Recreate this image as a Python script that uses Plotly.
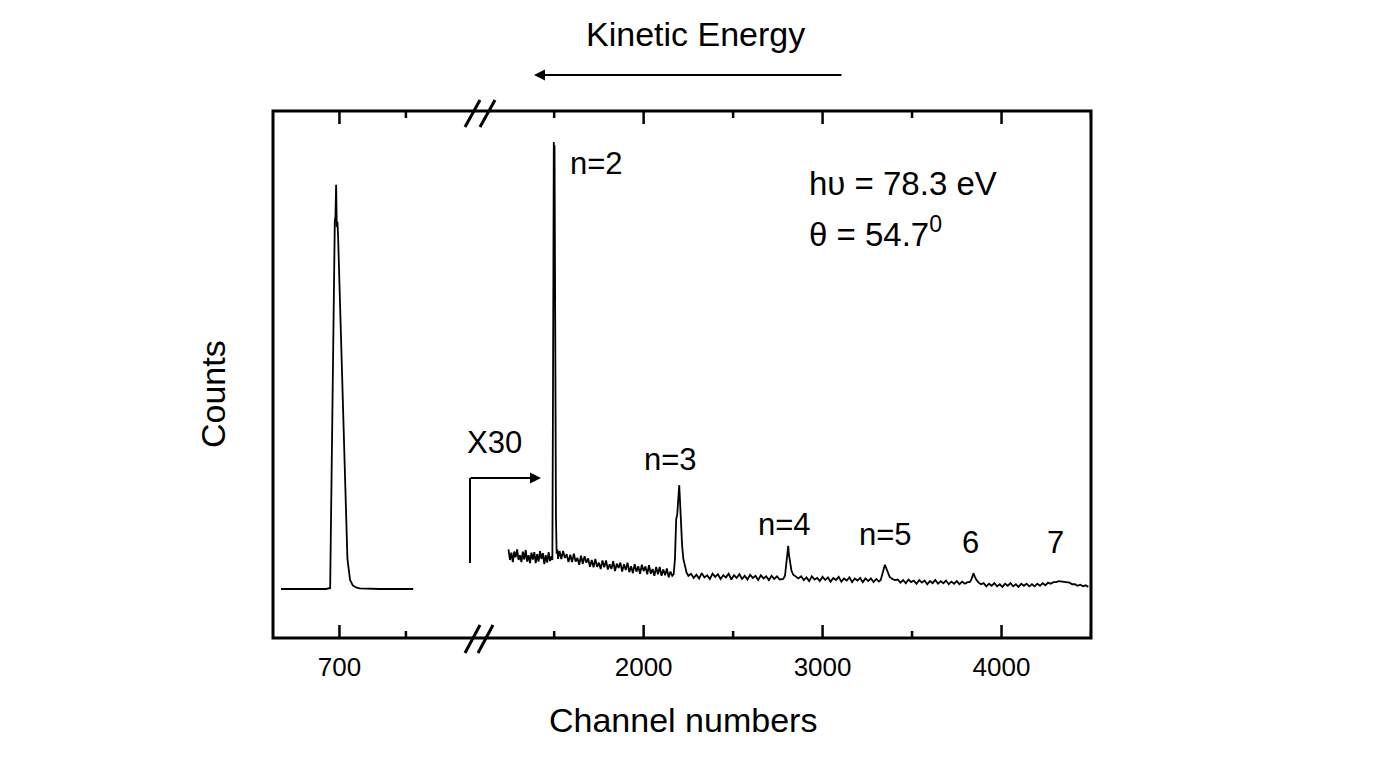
import plotly.graph_objects as go

# ---------------- data ----------------
# left panel: full-scale peak
left_channels = [612, 640, 660, 680, 686, 688, 690, 692, 693, 694, 695, 696, 697, 698,
                 700, 703, 706, 709, 712, 716, 720, 725, 730, 760, 811]
left_counts = [93, 93, 93, 93, 95, 300, 520, 720, 790, 800, 860, 780, 790, 760,
               680, 560, 420, 280, 150, 110, 100, 96, 94, 93, 93]

# right panel: X30 magnified spectrum (noisy background + peaks n=2..7)
seg_a_ch = [1245, 1253, 1261, 1269, 1277, 1285, 1293, 1301, 1309, 1317, 1325, 1333,
            1341, 1349, 1357, 1365, 1373, 1381, 1389, 1397, 1405, 1413, 1421, 1429,
            1437, 1445, 1453, 1461, 1469, 1477, 1485]
seg_a_ct = [168, 148, 162, 144, 164, 153, 168, 148, 157, 144, 164, 149, 167, 145, 157,
            142, 162, 149, 163, 142, 159, 145, 165, 150, 161, 140, 157, 143, 163, 146, 155]

peak2_ch = [1490, 1493, 1496, 1498, 1500, 1502, 1504, 1507, 1510, 1514, 1518, 1522]
peak2_ct = [148, 420, 760, 941, 880, 935, 700, 420, 230, 160, 168, 150]

seg_b_ch = [1530, 1540, 1550, 1560, 1570, 1580, 1590, 1600, 1610, 1620, 1630, 1640,
            1650, 1660, 1670, 1680, 1690, 1700, 1710, 1720, 1730, 1740, 1750, 1760,
            1770, 1780, 1790, 1800, 1810, 1820, 1830, 1840, 1850, 1860, 1870, 1880,
            1890, 1900, 1910, 1920, 1930, 1940, 1950, 1960, 1970, 1980, 1990, 2000,
            2010, 2020, 2030, 2040, 2050, 2060, 2070, 2080, 2090, 2100, 2110, 2120,
            2130, 2140, 2150, 2160]
seg_b_ct = [165, 150, 165, 152, 159, 144, 158, 144, 160, 145, 152, 139, 156, 141, 155,
            143, 151, 135, 148, 134, 150, 135, 143, 131, 147, 134, 147, 130, 140, 131,
            146, 127, 141, 133, 143, 126, 140, 129, 143, 125, 136, 123, 140, 126, 136,
            122, 139, 127, 136, 121, 138, 122, 131, 118, 135, 121, 135, 118, 130, 119,
            132, 115, 126, 118]

peak3_ch = [2168, 2175, 2182, 2188, 2194, 2199, 2203, 2208, 2215, 2222, 2230, 2240, 2250]
peak3_ct = [121, 150, 225, 235, 270, 290, 262, 215, 175, 150, 135, 124, 118]

seg_c_ch = [2265, 2280, 2295, 2310, 2325, 2340, 2355, 2370, 2385, 2400, 2415, 2430,
            2445, 2460, 2475, 2490, 2505, 2520, 2535, 2550, 2565, 2580, 2595, 2610,
            2625, 2640, 2655, 2670, 2685, 2700, 2715, 2730, 2745, 2760]
seg_c_ct = [122, 114, 120, 113, 123, 115, 119, 112, 122, 116, 121, 112, 119, 115, 122,
            111, 119, 114, 121, 112, 118, 111, 120, 114, 118, 110, 119, 113, 117, 110,
            118, 112, 117, 111]

peak4_ch = [2780, 2790, 2798, 2804, 2808, 2812, 2818, 2826, 2836, 2850, 2865]
peak4_ct = [112, 118, 140, 160, 175, 158, 140, 128, 120, 116, 113]

seg_d_ch = [2880, 2895, 2910, 2925, 2940, 2955, 2970, 2985, 3000, 3015, 3030, 3045,
            3060, 3075, 3090, 3105, 3120, 3135, 3150, 3165, 3180, 3195, 3210, 3225,
            3240, 3255, 3270, 3285, 3300, 3315]
seg_d_ct = [117, 110, 115, 108, 117, 111, 114, 108, 116, 110, 115, 107, 114, 110, 116,
            107, 113, 109, 115, 106, 113, 109, 114, 106, 113, 108, 113, 106, 112, 107]

peak5_ch = [3325, 3333, 3341, 3348, 3355, 3364, 3375, 3390, 3405]
peak5_ct = [110, 118, 130, 139, 132, 123, 116, 112, 110]

seg_e_ch = [3420, 3435, 3450, 3465, 3480, 3495, 3510, 3525, 3540, 3555, 3570, 3585,
            3600, 3615, 3630, 3645, 3660, 3675, 3690, 3705, 3720, 3735, 3750, 3765,
            3780, 3795, 3810]
seg_e_ct = [111, 105, 110, 104, 111, 106, 109, 103, 110, 105, 109, 102, 108, 104, 110,
            103, 108, 104, 109, 102, 107, 103, 108, 102, 107, 103, 106]

peak6_ch = [3822, 3830, 3838, 3844, 3850, 3860, 3872, 3885]
peak6_ct = [106, 110, 118, 123, 117, 110, 105, 102]

seg_f_ch = [3900, 3915, 3930, 3945, 3960, 3975, 3990, 4005, 4020, 4035, 4050, 4065,
            4080, 4095, 4110, 4125, 4140, 4155, 4170, 4185, 4200, 4215, 4230, 4245,
            4260, 4275, 4290, 4305, 4320, 4335, 4350, 4365, 4380, 4395, 4410, 4425,
            4440, 4455, 4470, 4485]
seg_f_ct = [104, 98, 103, 99, 104, 98, 102, 97, 103, 99, 104, 98, 102, 97, 103, 99,
            103, 98, 102, 98, 103, 99, 104, 100, 105, 103, 106, 106, 108, 107, 107, 105,
            105, 102, 102, 99, 101, 98, 100, 97]

right_channels = (seg_a_ch + peak2_ch + seg_b_ch + peak3_ch + seg_c_ch + peak4_ch
                  + seg_d_ch + peak5_ch + seg_e_ch + peak6_ch + seg_f_ch)
right_counts = (seg_a_ct + peak2_ct + seg_b_ct + peak3_ct + seg_c_ct + peak4_ct
                + seg_d_ct + peak5_ct + seg_e_ct + peak6_ct + seg_f_ct)

left_range = [600, 910]
right_range = [1080, 4500]
left_major_ticks = [700]
left_minor_ticks = [800]
right_major_ticks = [2000, 3000, 4000]
right_minor_ticks = [1500, 2500, 3500, 4500]

peak_labels = ["n=2", "n=3", "n=4", "n=5", "6", "7"]
peak_label_x = [1738, 2150, 2785, 3354, 3827, 4301]
peak_label_y = [901, 338, 216, 197, 182, 182]

# ---------------- layout helpers ----------------
W, H = 1377, 764
L, R, T, B = 273, 1091, 111, 638
FONT = "Liberation Sans, Arial, sans-serif"


def px(x):
    return (x - L) / (R - L)


def py(y):
    return (B - y) / (B - T)


split = px(479)
MAJOR_LEN = 13 / (B - T)   # tick lengths as fraction of plot height
MINOR_LEN = 7 / (B - T)

fig = go.Figure()
fig.add_trace(go.Scatter(x=left_channels, y=left_counts, mode="lines",
                         line=dict(color="black", width=1.8), xaxis="x", yaxis="y",
                         showlegend=False, hoverinfo="skip"))
fig.add_trace(go.Scatter(x=right_channels, y=right_counts, mode="lines",
                         line=dict(color="black", width=1.8), xaxis="x2", yaxis="y",
                         showlegend=False, hoverinfo="skip"))

tickfont = dict(family=FONT, size=26, color="black")


def label_axis(rng, vals, domain):
    return dict(range=rng, domain=domain, showgrid=False, zeroline=False,
                showline=False, ticks="", tickmode="array", tickvals=vals,
                ticktext=[str(v) for v in vals], tickfont=tickfont,
                ticklabelstandoff=11, anchor="y", fixedrange=True)


fig.update_layout(
    width=W, height=H,
    margin=dict(l=L, r=W - R, t=T, b=H - B),
    paper_bgcolor="white", plot_bgcolor="white",
    xaxis=label_axis(left_range, left_major_ticks, [0, split]),
    xaxis2=label_axis(right_range, right_major_ticks, [split, 1]),
    yaxis=dict(range=[0, 1000], showgrid=False, zeroline=False, showline=False,
               showticklabels=False, ticks="", fixedrange=True),
)

# tick marks (inside, bottom and mirrored on top), placed on the axis scales
for xref, vals, ln in [("x", left_major_ticks, MAJOR_LEN), ("x", left_minor_ticks, MINOR_LEN),
                       ("x2", right_major_ticks, MAJOR_LEN), ("x2", right_minor_ticks, MINOR_LEN)]:
    for v in vals:
        for y0, y1 in [(0, ln), (1, 1 - ln)]:
            fig.add_shape(type="line", xref=xref, yref="paper", x0=v, x1=v, y0=y0, y1=y1,
                          line=dict(color="black", width=2.5), layer="above")

# frame
fig.add_shape(type="rect", xref="paper", yref="paper", x0=0, x1=1, y0=0, y1=1,
              line=dict(color="black", width=3), layer="above")

# axis-break marks "//" on bottom and top axes
for (x0, y0, x1, y1) in [(465, 653, 480, 625), (478, 653, 493, 625),
                         (465, 127, 480, 100), (480, 127, 495, 100)]:
    fig.add_shape(type="line", xref="paper", yref="paper",
                  x0=px(x0), y0=py(y0), x1=px(x1), y1=py(y1),
                  line=dict(color="black", width=3), layer="above")

# X30 bracket arrow
fig.add_shape(type="line", xref="paper", yref="paper",
              x0=px(470), y0=py(563), x1=px(470), y1=py(478),
              line=dict(color="black", width=2))
fig.add_annotation(xref="paper", yref="paper", x=px(541), y=py(478),
                   ax=-72, ay=0, axref="pixel", ayref="pixel", text="",
                   showarrow=True, arrowhead=2, arrowsize=1.1, arrowwidth=2,
                   arrowcolor="black")
fig.add_annotation(xref="paper", yref="paper", x=px(494), y=py(442), text="X30",
                   xanchor="center", yanchor="middle",
                   showarrow=False, font=dict(family=FONT, size=31, color="black"))

# Kinetic energy arrow + label
fig.add_annotation(xref="paper", yref="paper", x=px(534), y=py(75),
                   ax=309, ay=0, axref="pixel", ayref="pixel", text="",
                   showarrow=True, arrowhead=2, arrowsize=1.1, arrowwidth=2,
                   arrowcolor="black")
fig.add_annotation(xref="paper", yref="paper", x=px(695), y=py(34),
                   xanchor="center", yanchor="middle",
                   text="Kinetic Energy", showarrow=False,
                   font=dict(family=FONT, size=34, color="black"))

# axis titles
fig.add_annotation(xref="paper", yref="paper", x=px(683), y=py(720),
                   xanchor="center", yanchor="middle",
                   text="Channel numbers", showarrow=False,
                   font=dict(family=FONT, size=34, color="black"))
fig.add_annotation(xref="paper", yref="paper", x=px(213), y=py(394),
                   xanchor="center", yanchor="middle",
                   text="Counts", showarrow=False, textangle=-90,
                   font=dict(family=FONT, size=34, color="black"))

# peak labels
for t, xv, yv in zip(peak_labels, peak_label_x, peak_label_y):
    fig.add_annotation(xref="x2", yref="y", x=xv, y=yv, text=t, showarrow=False,
                       xanchor="center", yanchor="middle",
                       font=dict(family=FONT, size=31, color="black"))

# experiment parameters
fig.add_annotation(xref="x2", yref="y", x=2914, y=863, xanchor="left", yanchor="middle",
                   text="h\u03c5 = 78.3 eV", showarrow=False,
                   font=dict(family=FONT, size=33, color="black"))
fig.add_annotation(xref="x2", yref="y", x=2914, y=770, xanchor="left", yanchor="middle",
                   text="\u03b8 = 54.7<sup>0</sup>", showarrow=False,
                   font=dict(family=FONT, size=33, color="black"))

fig.write_html("out.html")
